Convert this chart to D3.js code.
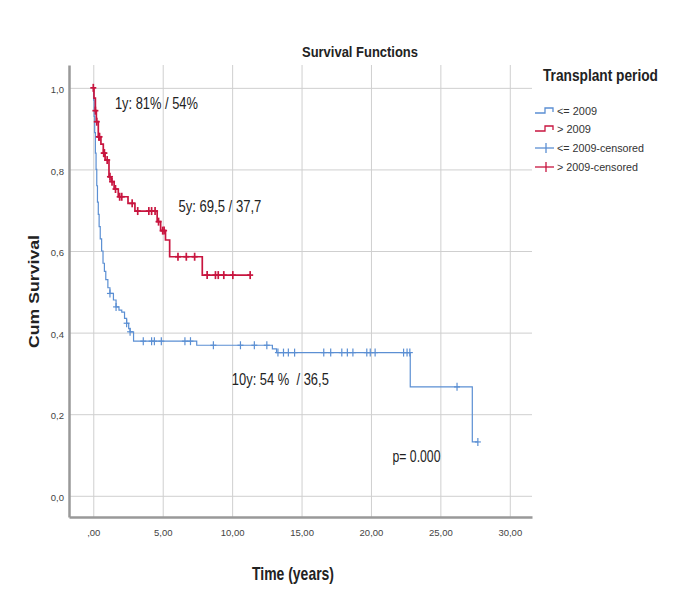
<!DOCTYPE html>
<html>
<head>
<meta charset="utf-8">
<script src="https://cdn.jsdelivr.net/npm/d3@7"></script>
<style>
  body { margin: 0; background: #fff; }
  text { font-family: "Liberation Sans", Arial, sans-serif; }
</style>
</head>
<body>
<div id="chart"></div>
<script>
// Tick values
const xTicks = [0, 5, 10, 15, 20, 25, 30];
const yTicks = [0, 0.2, 0.4, 0.6, 0.8, 1.0];

// <= 2009 : step times and survival after each step
const blueTimes = [0, 0.02, 0.06, 0.1, 0.15, 0.2, 0.25, 0.3, 0.36, 0.42, 0.5, 0.6, 0.7, 0.8, 0.9,
    1.05, 1.2, 1.45, 1.64, 1.85, 2.05, 2.25, 2.4, 2.55, 2.65, 2.9, 7.45, 12.9, 13.2, 22.83, 27.3];
const blueSurv = [1, 0.97, 0.93, 0.89, 0.84, 0.80, 0.76, 0.72, 0.69, 0.66, 0.63, 0.60, 0.57, 0.55, 0.53,
    0.51, 0.496, 0.48, 0.463, 0.455, 0.45, 0.435, 0.423, 0.41, 0.402, 0.379, 0.369, 0.36, 0.351, 0.267, 0.132];
const blueEnd = 27.7;
const blueCensored = [1.2, 1.64, 2.4, 2.65, 3.6, 4.2, 4.4, 4.9, 6.6, 7.0, 8.65, 10.6, 11.6, 12.5, 13.3, 13.7,
    14.05, 14.5, 16.6, 17.1, 17.9, 18.3, 18.7, 19.7, 19.95, 20.3, 22.35, 22.6, 22.8, 26.2, 27.7];

// > 2009
const redTimes = [0, 0.05, 0.15, 0.22, 0.36, 0.55, 0.72, 0.85, 1.13, 1.3, 1.5, 1.8, 2.5, 3.0, 4.6, 4.85, 5.2, 5.5, 7.85];
const redSurv = [1, 0.975, 0.944, 0.917, 0.88, 0.862, 0.84, 0.823, 0.782, 0.77, 0.752, 0.733, 0.717, 0.698,
    0.672, 0.65, 0.627, 0.586, 0.541];
const redEnd = 11.3;
const redCensored = [0, 0.15, 0.25, 0.4, 0.45, 0.75, 0.8, 1.0, 1.2, 1.35, 1.6, 1.9, 2.05, 2.8, 3.2, 4.0, 4.2,
    4.45, 4.7, 5.0, 5.1, 6.1, 6.7, 7.3, 8.2, 8.8, 9.0, 9.4, 10.05, 11.3];

const legendLabels = ["<= 2009", "> 2009", "<= 2009-censored", "> 2009-censored"];

const blue = "#5b8fd3";
const red = "#c8153f";

const svg = d3.select("#chart")
    .append("svg")
    .attr("width", 700)
    .attr("height", 600);

// Plot box
const plotLeft = 69, plotRight = 532, plotTop = 65, plotBottom = 517;

const x = d3.scaleLinear()
    .domain([-1.75, 31.6])
    .range([plotLeft, plotRight]);

const y = d3.scaleLinear()
    .domain([-0.052, 1.056])
    .range([plotBottom, plotTop]);

// Grid
svg.append("g")
    .attr("transform", `translate(0,${plotBottom})`)
    .call(d3.axisBottom(x).tickValues(xTicks).tickSize(-(plotBottom - plotTop)).tickFormat(""))
    .call(g => g.select(".domain").remove())
    .selectAll("line")
    .attr("stroke", "#cfcfcf");

svg.append("g")
    .attr("transform", `translate(${plotLeft},0)`)
    .call(d3.axisLeft(y).tickValues(yTicks).tickSize(-(plotRight - plotLeft)).tickFormat(""))
    .call(g => g.select(".domain").remove())
    .selectAll("line")
    .attr("stroke", "#cfcfcf");

// Axes
const xAxis = svg.append("g")
    .attr("transform", `translate(0,${plotBottom})`)
    .call(d3.axisBottom(x).tickValues(xTicks).tickSize(0).tickPadding(12)
        .tickFormat(d => d === 0 ? ",00" : d + ",00"));
xAxis.select(".domain").attr("stroke", "#999").attr("stroke-width", 2.5);
xAxis.selectAll("text").style("font-size", "9.5px").attr("fill", "#444");

const yAxis = svg.append("g")
    .attr("transform", `translate(${plotLeft},0)`)
    .call(d3.axisLeft(y).tickValues(yTicks).tickSize(0).tickPadding(5)
        .tickFormat(d => d.toFixed(1).replace(".", ",")));
yAxis.select(".domain").attr("stroke", "#999").attr("stroke-width", 2.5);
yAxis.selectAll("text").style("font-size", "9.5px").attr("fill", "#444").attr("dy", "0.5em");

// Curves
const step = d3.line()
    .x(d => x(d[0]))
    .y(d => y(d[1]))
    .curve(d3.curveStepAfter);

function curvePoints(times, surv, end) {
    const pts = times.map((t, i) => [t, surv[i]]);
    pts.push([end, surv[surv.length - 1]]);
    return pts;
}

function survAt(times, surv, t) {
    let s = surv[0];
    times.forEach((tt, i) => { if (tt <= t) s = surv[i]; });
    return s;
}

function drawGroup(times, surv, end, censored, color, width) {
    svg.append("path")
        .datum(curvePoints(times, surv, end))
        .attr("fill", "none")
        .attr("stroke", color)
        .attr("stroke-width", width)
        .attr("d", step);

    const marks = svg.append("g")
        .attr("stroke", color)
        .attr("stroke-width", width);

    censored.forEach(t => {
        const cx = x(t), cy = y(survAt(times, surv, t));
        marks.append("line").attr("x1", cx).attr("x2", cx).attr("y1", cy - 4).attr("y2", cy + 4);
        marks.append("line").attr("x1", cx - 3).attr("x2", cx + 3).attr("y1", cy).attr("y2", cy);
    });
}

drawGroup(blueTimes, blueSurv, blueEnd, blueCensored, blue, 1.2);
drawGroup(redTimes, redSurv, redEnd, redCensored, red, 1.7);

// Annotations
const notes = [
    { text: "1y: 81% / 54%", t: 1.56, s: 0.947, len: 83 },
    { text: "5y: 69,5 / 37,7", t: 6.13, s: 0.696, len: 83 },
    { text: "10y: 54 %  / 36,5", t: 9.98, s: 0.271, len: 97 },
    { text: "p= 0.000", t: 21.55, s: 0.084, len: 48 }
];
notes.forEach(n => {
    svg.append("text")
        .attr("x", x(n.t))
        .attr("y", y(n.s))
        .attr("textLength", n.len)
        .attr("lengthAdjust", "spacingAndGlyphs")
        .style("font-size", "17px")
        .style("white-space", "pre")
        .attr("fill", "#222")
        .text(n.text);
});

// Title
svg.append("text")
    .attr("x", 302)
    .attr("y", 56.5)
    .attr("textLength", 116)
    .attr("lengthAdjust", "spacingAndGlyphs")
    .style("font-size", "15px")
    .style("font-weight", "bold")
    .attr("fill", "#222")
    .text("Survival Functions");

// Axis titles
svg.append("text")
    .attr("x", 252)
    .attr("y", 580)
    .attr("textLength", 82)
    .attr("lengthAdjust", "spacingAndGlyphs")
    .style("font-size", "19px")
    .style("font-weight", "bold")
    .attr("fill", "#222")
    .text("Time (years)");

svg.append("text")
    .attr("transform", "translate(39,348) rotate(-90)")
    .attr("textLength", 113)
    .attr("lengthAdjust", "spacingAndGlyphs")
    .style("font-size", "15px")
    .style("font-weight", "bold")
    .attr("fill", "#222")
    .text("Cum Survival");

// Legend
svg.append("text")
    .attr("x", 543)
    .attr("y", 81)
    .attr("textLength", 115)
    .attr("lengthAdjust", "spacingAndGlyphs")
    .style("font-size", "16px")
    .style("font-weight", "bold")
    .attr("fill", "#222")
    .text("Transplant period");

const legendRows = [111, 129, 148, 167];
const legendLens = [40, 34, 87, 81];
const legendColors = [blue, red, blue, red];

legendLabels.forEach((label, i) => {
    const cy = legendRows[i];
    const c = legendColors[i];
    if (i < 2) {
        svg.append("path")
            .attr("d", `M535,${cy + 2}H545V${cy - 3}H553V${cy + 1}`)
            .attr("fill", "none")
            .attr("stroke", c)
            .attr("stroke-width", 1.3);
    } else {
        svg.append("line").attr("x1", 535).attr("x2", 554).attr("y1", cy).attr("y2", cy)
            .attr("stroke", c).attr("stroke-width", 1.3);
        svg.append("line").attr("x1", 546).attr("x2", 546).attr("y1", cy - 5).attr("y2", cy + 5)
            .attr("stroke", c).attr("stroke-width", 1.3);
    }
    svg.append("text")
        .attr("x", 557)
        .attr("y", cy + 4)
        .attr("textLength", legendLens[i])
        .attr("lengthAdjust", "spacingAndGlyphs")
        .style("font-size", "11px")
        .attr("fill", "#333")
        .text(label);
});
</script>
</body>
</html>
